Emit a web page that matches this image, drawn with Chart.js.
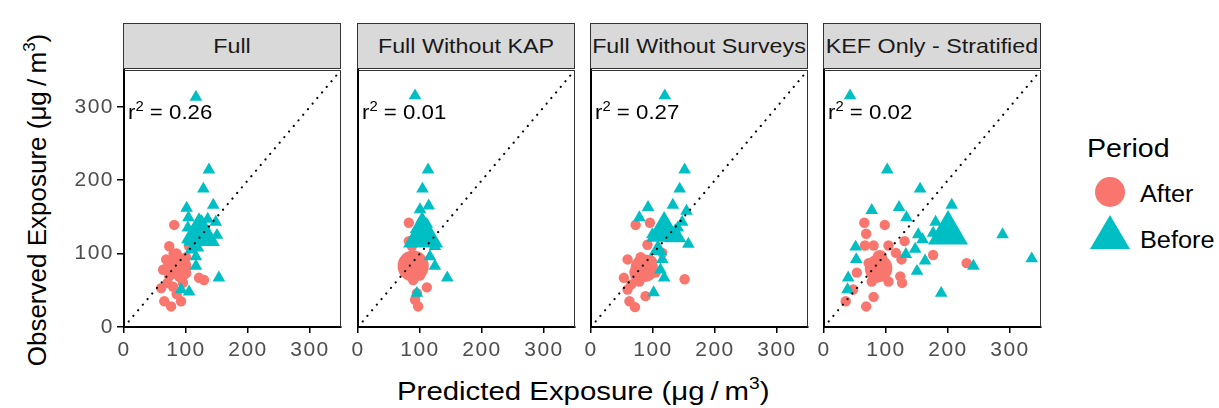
<!DOCTYPE html>
<html>
<head>
<meta charset="utf-8">
<script src="https://cdn.jsdelivr.net/npm/chart.js@4.4.0/dist/chart.umd.min.js"></script>
<style>
  body { margin: 0; background: #fff; font-family: "Liberation Sans", Arial, sans-serif; }
  #wrap { position: relative; width: 1219px; height: 408px; overflow: hidden; }
  canvas { position: absolute; }
  .strip { position: absolute; top: 23px; height: 46px; background: #d9d9d9; border: 1px solid #333;
           box-sizing: border-box; overflow: hidden; }
  .strip span { position: absolute; left: 50%; top: 11px; font-size: 21px; line-height: 21px; color: #1a1a1a;
                white-space: nowrap; transform: translateX(-50%) scaleX(1.11); }
  .r2 { position: absolute; font-size: 21px; line-height: 21px; color: #000; white-space: nowrap;
        transform: scaleX(1.06); transform-origin: left center; }
  .r2 sup { font-size: 14px; vertical-align: 8px; line-height: 0; }
  .title { position: absolute; font-size: 26px; line-height: 26px; color: #000; white-space: nowrap; }
  .title sup { font-size: 17px; vertical-align: 11px; line-height: 0; }
  .leg { position: absolute; color: #000; white-space: nowrap; transform: scaleX(1.1); transform-origin: left center; }
</style>
</head>
<body>
<div id="wrap"></div>
<script>
// facets
const panels = ['Full', 'Full Without KAP', 'Full Without Surveys', 'KEF Only - Stratified'];
const r2Values = ['0.26', '0.01', '0.27', '0.02'];
const tickValues = [0, 100, 200, 300];

// [predicted, observed, n] per facet
const fullBefore = [[116,313,1],[137,214,1],[128,188,1],[101,162,1],[144,166,1],[148,143,1],[104,149,1],[135,147,1],
  [121,128,8],[137,119,3],[103,135,1],[150,125,1],[110,118,2],[116,96,1],[116,83,1],[153,67,1],[92,51,1],[105,48,1],
  [108,105,1],[115,110,2],[125,140,2]];
const fullAfter = [[81,139,1],[73,110,1],[68,92,1],[63,78,1],[60,53,1],[65,35,1],[76,28,1],[92,35,1],[121,67,1],[129,64,1],
  [88,82,6],[95,92,1],[79,55,1],[100,73,1],[73,69,1],[105,110,1],[80,100,1],[70,60,1],[95,60,1],[85,45,1],
  [85,100,1],[100,95,1],[92,70,2],[75,85,2]];

const noKapBefore = [[92,315,1],[113,214,1],[104,188,1],[114,165,1],[100,160,1],[103,147,1],[111,140,1],[105,124,10],
  [89,119,1],[124,110,1],[116,96,1],[124,83,1],[144,67,1],[95,46,1],[98,135,2],[110,130,2]];
const noKapAfter = [[82,142,1],[82,117,1],[89,83,9],[111,54,1],[92,37,1],[97,28,1],[89,64,1],[95,46,1],[87,110,1],[80,95,1],[100,70,1]];

const noSurvBefore = [[119,315,1],[151,214,1],[143,188,1],[132,166,1],[92,163,1],[78,149,1],[154,158,1],[147,143,1],
  [118,130,8],[136,124,3],[157,113,1],[99,126,1],[115,92,1],[118,67,1],[101,47,1],[112,78,1],[140,135,1],[108,105,2]];
const noSurvAfter = [[72,139,1],[95,142,1],[59,92,1],[53,67,1],[59,51,1],[62,35,1],[71,27,1],[88,42,1],[151,65,1],
  [86,80,7],[104,74,1],[78,62,1],[91,112,1],[115,101,1],[70,75,1],[65,58,1],[80,95,1],[95,88,2],[75,70,2]];

const kefBefore = [[42,315,1],[102,214,1],[155,188,1],[77,159,1],[121,163,1],[133,149,1],[206,166,1],[180,143,1],
  [200,128,10],[176,128,1],[152,126,1],[159,119,1],[288,126,1],[335,93,1],[241,83,1],[147,106,1],[132,99,1],
  [163,90,1],[150,76,1],[189,46,1],[51,109,1],[52,92,1],[39,67,1],[38,51,1]];
const kefAfter = [[65,142,1],[98,139,1],[68,127,1],[66,111,1],[80,111,1],[104,111,1],[130,117,1],[116,101,1],[125,92,1],
  [176,98,1],[230,87,1],[88,80,7],[72,87,1],[53,74,1],[77,62,1],[104,62,1],[123,69,1],[126,60,1],[47,51,1],
  [35,35,1],[68,28,1],[80,41,1],[98,87,1],[90,95,2],[85,70,2],[100,80,1]];

const beforeSets = [fullBefore, noKapBefore, noSurvBefore, kefBefore];
const afterSets = [fullAfter, noKapAfter, noSurvAfter, kefAfter];

const AFTER_COL = '#F8766D';
const BEFORE_COL = '#00BFC4';

// layout
const panelLeft = [124, 357.5, 590.5, 823.5];
const panelW = 217, panelTop = 70, panelH = 257;
const padL = 50, padT = 10, padR = 10, axisH = 45;

const wrap = document.getElementById('wrap');

const toPts = arr => arr.map(d => ({ x: d[0], y: d[1], n: d[2] }));

// gray top/right panel border + wider tick text
const boxPlugin = {
  id: 'box',
  beforeDraw(chart) {
    chart.ctx.letterSpacing = '1.5px';
  },
  afterDraw(chart) {
    const { ctx, chartArea: a } = chart;
    ctx.save();
    ctx.strokeStyle = '#333';
    ctx.lineWidth = 1;
    ctx.beginPath();
    ctx.moveTo(a.left, a.top + 0.5);
    ctx.lineTo(a.right - 0.5, a.top + 0.5);
    ctx.lineTo(a.right - 0.5, a.bottom);
    ctx.stroke();
    ctx.restore();
  }
};

panels.forEach((name, i) => {
  const cv = document.createElement('canvas');
  cv.width = padL + panelW + padR;
  cv.height = padT + panelH + axisH;
  cv.style.left = (panelLeft[i] - padL) + 'px';
  cv.style.top = (panelTop - padT) + 'px';
  wrap.appendChild(cv);

  const strip = document.createElement('div');
  strip.className = 'strip';
  strip.style.left = (panelLeft[i] - 1) + 'px';
  strip.style.width = (panelW + 1) + 'px';
  strip.innerHTML = '<span>' + name + '</span>';
  wrap.appendChild(strip);

  const r2 = document.createElement('div');
  r2.className = 'r2';
  r2.style.left = (panelLeft[i] + 4) + 'px';
  r2.style.top = '101px';
  r2.innerHTML = 'r<sup>2</sup> = ' + r2Values[i];
  wrap.appendChild(r2);

  const showY = i === 0;

  new Chart(cv, {
    type: 'scatter',
    data: {
      datasets: [
        {
          data: [{ x: 0, y: 0 }, { x: 350, y: 350 }],
          showLine: true,
          borderColor: '#000',
          borderWidth: 2.2,
          borderDash: [0.01, 7.3],
          borderCapStyle: 'round',
          pointRadius: 0
        },
        {
          data: toPts(beforeSets[i]),
          pointStyle: 'triangle',
          backgroundColor: BEFORE_COL,
          borderWidth: 0,
          pointRadius: c => 7.3 * Math.sqrt(c.raw.n)
        },
        {
          data: toPts(afterSets[i]),
          pointStyle: 'circle',
          backgroundColor: AFTER_COL,
          borderWidth: 0,
          pointRadius: c => 5.2 * Math.sqrt(c.raw.n)
        }
      ]
    },
    options: {
      responsive: false,
      animation: false,
      events: [],
      layout: { autoPadding: false, padding: { top: padT, right: padR, left: 0, bottom: 0 } },
      plugins: { legend: { display: false }, tooltip: { enabled: false } },
      scales: {
        x: {
          type: 'linear', min: 0, max: 350,
          afterBuildTicks: s => { s.ticks = tickValues.map(v => ({ value: v })); },
          afterFit: s => { s.height = axisH; s.paddingLeft = 0; s.paddingRight = 0; },
          ticks: { color: '#4d4d4d', font: { size: 21, family: 'Liberation Sans' }, padding: 5, maxRotation: 0 },
          grid: { drawOnChartArea: false, tickLength: 6, color: '#000', lineWidth: 1.5 },
          border: { color: '#000', width: 2 }
        },
        y: {
          type: 'linear', min: 0, max: 350,
          afterBuildTicks: s => { s.ticks = tickValues.map(v => ({ value: v })); },
          afterFit: s => { s.width = padL; s.paddingTop = 0; s.paddingBottom = 0; },
          ticks: { display: showY, color: '#4d4d4d', font: { size: 21, family: 'Liberation Sans' }, padding: 3 },
          grid: { display: showY, drawOnChartArea: false, tickLength: 7, color: '#000', lineWidth: 1.5 },
          border: { color: '#000', width: 2 }
        }
      }
    },
    plugins: [boxPlugin]
  });
});

// axis titles
const xt = document.createElement('div');
xt.className = 'title';
xt.innerHTML = 'Predicted Exposure (\u03bcg\u2009/\u2009m<sup>3</sup>)';
xt.style.left = '397px';
xt.style.top = '378px';
xt.style.transform = 'scaleX(1.13)';
xt.style.transformOrigin = 'left center';
wrap.appendChild(xt);

const yt = document.createElement('div');
yt.className = 'title';
yt.innerHTML = 'Observed Exposure (\u03bcg\u2009/\u2009m<sup>3</sup>)';
yt.style.left = '37px';
yt.style.top = '200px';
yt.style.transform = 'translate(-50%, -50%) rotate(-90deg)';
wrap.appendChild(yt);

// legend
function legText(txt, left, top, size) {
  const d = document.createElement('div');
  d.className = 'leg';
  d.textContent = txt;
  d.style.left = left + 'px';
  d.style.top = top + 'px';
  d.style.fontSize = size + 'px';
  d.style.lineHeight = size + 'px';
  wrap.appendChild(d);
}
legText('Period', 1087, 135, 26);
const dot = document.createElement('div');
dot.style.cssText = 'position:absolute;left:1095px;top:177px;width:30px;height:30px;border-radius:50%;background:' + AFTER_COL;
wrap.appendChild(dot);
legText('After', 1140, 183, 23);
const tri = document.createElement('div');
tri.style.cssText = 'position:absolute;left:1090px;top:215px;width:40px;height:34px;clip-path:polygon(50% 0,100% 100%,0 100%);background:' + BEFORE_COL;
wrap.appendChild(tri);
legText('Before', 1140, 229, 23);
</script>
</body>
</html>
